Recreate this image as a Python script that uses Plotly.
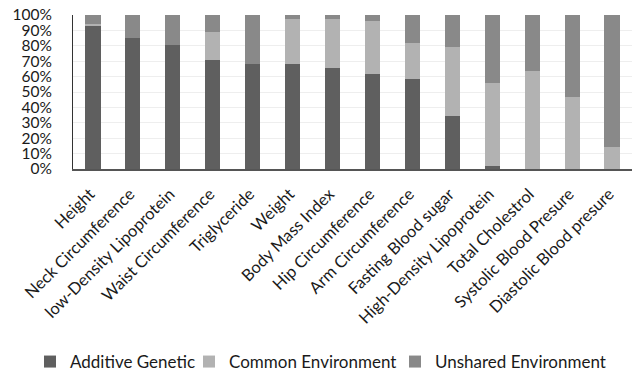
import plotly.graph_objects as go

categories = ["Height", "Neck Circumference", "low-Density Lipoprotein", "Waist Circumference",
              "Triglyceride", "Weight", "Body Mass Index", "Hip Circumference",
              "Arm Circumference", "Fasting Blood sugar", "High-Density Lipoprotein",
              "Total Cholestrol", "Systolic Blood Presure", "Diastolic Blood presure"]
additive_genetic = [93.5, 85.0, 80.5, 70.8, 68.4, 68.4, 65.4, 61.9, 58.6, 34.2, 2.0, 0.0, 0.0, 0.0]
common_environment = [0.5, 0.0, 0.0, 18.2, 0.0, 29.0, 31.8, 34.2, 23.2, 45.2, 53.8, 63.6, 46.8, 14.5]
unshared_environment = [6.0, 15.0, 19.5, 11.0, 31.6, 2.6, 2.8, 3.9, 18.2, 20.6, 44.2, 36.4, 53.2, 85.5]
y_ticks = [0, 10, 20, 30, 40, 50, 60, 70, 80, 90, 100]
y_tick_labels = [f"{v}%" for v in y_ticks]

series = [
    ("Additive Genetic", additive_genetic, "#5f5f5f", "legend", 30),
    ("Common Environment", common_environment, "#b2b2b2", "legend2", 189),
    ("Unshared Environment", unshared_environment, "#898989", "legend3", 395),
]

W, H = 632, 373
fig = go.Figure()
for name, vals, color, leg, _ in series:
    fig.add_trace(go.Bar(x=categories, y=vals, name=name, width=0.38, legend=leg,
                         marker=dict(color=color, line=dict(width=0))))

font = "Lato, 'Open Sans', sans-serif"
legend_common = dict(orientation="h", xref="container", yref="container",
                     xanchor="left", y=(H - 362) / H, yanchor="middle",
                     font=dict(size=17, color="#1a1a1a"), itemwidth=30,
                     bgcolor="rgba(0,0,0,0)")
legends = {}
for name, vals, color, leg, px in series:
    legends[leg] = dict(legend_common, x=px / W)

fig.update_layout(
    barmode="stack",
    width=W, height=H,
    margin=dict(l=73, r=0, t=15, b=204, autoexpand=False),
    paper_bgcolor="white", plot_bgcolor="white",
    font=dict(family=font, size=15, color="#1a1a1a"),
    showlegend=True,
    **legends,
    xaxis=dict(tickangle=-45, showline=True, linecolor="#555555", linewidth=2,
               ticks="", tickfont=dict(size=16.5), automargin=False,
               ticklabelstandoff=7, ticklabelshift=-3),
    yaxis=dict(range=[0, 100], tickvals=y_ticks, ticktext=y_tick_labels,
               showgrid=True, gridcolor="#eeeeee", gridwidth=1,
               showline=True, linecolor="#333333", linewidth=1,
               ticks="", tickfont=dict(size=15.5), zeroline=False, automargin=False,
               ticklabelstandoff=17),
)

fig.write_html("out.html", config={"displayModeBar": False},
               post_script="document.body.style.margin='0';")
